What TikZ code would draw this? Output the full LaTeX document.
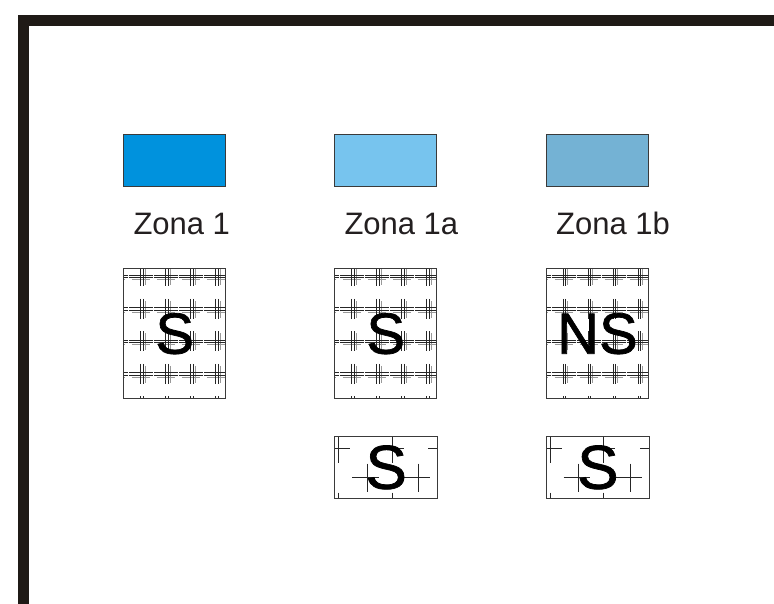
\documentclass[tikz,border=0pt]{standalone}
\usepackage{fontspec}
\setmainfont{Liberation Sans}
\newfontfamily\heavyish[FakeBold=1.2]{Liberation Sans}
\definecolor{framecol}{HTML}{1F1A16}
\definecolor{zoneA}{HTML}{0092DD}
\definecolor{zoneB}{HTML}{77C4EE}
\definecolor{zoneC}{HTML}{74B2D4}
\definecolor{edgecol}{HTML}{3A3A3A}
\definecolor{txtcol}{HTML}{231F20}
\newcommand\crossd[2]{%
  \draw[hatchgray] ({#1-10},{#2+3.2}) -- ({#1+8},{#2+3.2})
                   ({#1+3.4},{#2-8}) -- ({#1+3.4},{#2+9});
  \draw[hatch] ({#1-13},{#2-1.3}) -- ({#1+11},{#2-1.3})
               ({#1-13},{#2+1.3}) -- ({#1+11},{#2+1.3})
               ({#1-1.3},{#2-10}) -- ({#1-1.3},{#2+10})
               ({#1+1.3},{#2-10}) -- ({#1+1.3},{#2+10});}
\newcommand\crosss[2]{%
  \draw[hatchs] ({#1-15},{#2}) -- ({#1+11.6},{#2})
                ({#1},{#2-13.5}) -- ({#1},{#2+15});}
\newcommand\bigpat[2]{%
  \begin{scope}
    \clip (#1,#2) rectangle ++(102,130);
    \foreach \dx in {-6.5,18.5,43.5,68.5,93.5,118.5}{
      \foreach \dy in {8,40.5,73,105.5,138}{
        \pgfmathsetmacro\cx{#1+\dx}\pgfmathsetmacro\cy{#2+\dy}
        \crossd{\cx}{\cy}}}
  \end{scope}}
\newcommand\smallpat[2]{%
  \begin{scope}
    \clip (#1,#2) rectangle ++(103,62);
    \foreach \dx/\dy in {4.3/12,57.7/12,109/12,32.7/41,84.3/41,4.3/70,57.7/70}{
      \pgfmathsetmacro\cx{#1+\dx}\pgfmathsetmacro\cy{#2+\dy}
      \crosss{\cx}{\cy}}
  \end{scope}}
\begin{document}
\begin{tikzpicture}[x=1pt,y=-1pt,
  swatch/.style={draw=edgecol, line width=0.9pt, minimum width=102pt,
    minimum height=52pt, inner sep=0pt, anchor=north west},
  zlabel/.style={anchor=base west, inner sep=0pt,
    font=\fontsize{31}{37}\selectfont, text=txtcol},
  gridbox/.style={draw=edgecol, line width=0.8pt, minimum width=102pt,
    minimum height=130pt, inner sep=0pt, anchor=north west,
    font=\heavyish\fontsize{58}{66}\selectfont, text=black},
  smallbox/.style={draw=edgecol, line width=0.8pt, minimum width=103pt,
    minimum height=62pt, inner sep=0pt, anchor=north west,
    font=\heavyish\fontsize{62}{70}\selectfont, text=black},
  hatch/.style={line width=0.65pt, draw=black!85},
  hatchs/.style={line width=0.8pt, draw=black!85},
  hatchgray/.style={line width=0.9pt, draw=black!40}]
\useasboundingbox (0,0) rectangle (774,604);
\fill[white] (0,0) rectangle (774,604);
% frame
\fill[framecol] (17.5,15) rectangle (774,25.7);
\fill[framecol] (17.5,15) rectangle (28.5,604);
% swatches
\node[swatch, fill=zoneA] (z1) at (123.3,134) {};
\node[swatch, fill=zoneB] (z1a) at (334.3,134) {};
\node[swatch, fill=zoneC] (z1b) at (546,134) {};
% labels
\node[zlabel] (l1) at (133.3,234.3) {Zona 1};
\node[zlabel] (l1a) at (344.3,234.3) {Zona 1a};
\node[zlabel] (l1b) at (556,234.3) {Zona 1b};
% big hatched boxes
\bigpat{123.3}{268.3}
\bigpat{334.3}{268.3}
\bigpat{546}{268.3}
\node[gridbox] (g1) at (123.3,268.3) {S};
\node[gridbox] (g1a) at (334.3,268.3) {S};
\node[gridbox] (g1b) at (546,268.3) {NS};
% small hatched boxes
\smallpat{334.3}{436}
\smallpat{546}{436}
\node[smallbox] (s1a) at (334.3,436) {S};
\node[smallbox] (s1b) at (546,436) {S};
\end{tikzpicture}
\end{document}
